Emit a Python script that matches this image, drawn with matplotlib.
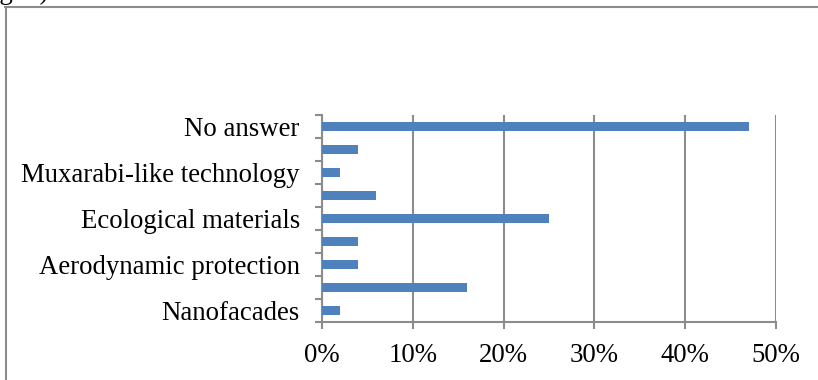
import matplotlib.pyplot as plt
from matplotlib.lines import Line2D
from matplotlib.ticker import FixedLocator, PercentFormatter

# survey answers, bottom to top; every other label is left blank
categories = ["Nanofacades", "", "Aerodynamic protection", "",
              "Ecological materials", "", "Muxarabi-like technology", "",
              "No answer"]
shares = [2, 16, 4, 4, 25, 6, 2, 4, 47]
x_ticks = [0, 10, 20, 30, 40, 50]

BAR = "#4f81bd"
GREY = "#8c8c8c"
FS = 19.3

plt.rcParams['font.family'] = ['Liberation Serif', 'DejaVu Serif']

fig = plt.figure(figsize=(8.18, 3.80), dpi=100)
ax = fig.add_axes([322 / 818, 1 - 322 / 380, 454 / 818, 207 / 380])

pos = list(range(len(categories)))
ax.barh(pos, shares, height=0.42, color=BAR, zorder=3)

ax.set_xlim(0, 50)
ax.set_ylim(-0.5, len(categories) - 0.5)
ax.xaxis.set_major_locator(FixedLocator(x_ticks))
ax.xaxis.set_major_formatter(PercentFormatter(decimals=0))
ax.grid(axis='x', color=GREY, linewidth=1.5, zorder=0)

# tick marks sit between categories, labels at bar centres
ax.yaxis.set_major_locator(FixedLocator([p - 0.5 for p in pos] + [pos[-1] + 0.5]))
ax.yaxis.set_major_formatter(plt.NullFormatter())
ax.yaxis.set_minor_locator(FixedLocator(pos))
ax.set_yticklabels(categories, minor=True)
ax.tick_params(axis='y', which='major', length=5, width=1.5, color=GREY)
ax.tick_params(axis='y', which='minor', length=0, pad=16, labelsize=FS)
ax.tick_params(axis='x', length=5, width=1.5, color=GREY, pad=10, labelsize=FS)

for side in ("top", "right"):
    ax.spines[side].set_visible(False)
for side in ("left", "bottom"):
    ax.spines[side].set_color(GREY)
    ax.spines[side].set_linewidth(1.5)

# outer frame of the figure box and the cut-off caption above it
fig.add_artist(Line2D([5 / 818, 1], [1 - 6.5 / 380] * 2, color=GREY, linewidth=1.5))
fig.add_artist(Line2D([5.5 / 818] * 2, [0, 1 - 6.5 / 380], color=GREY, linewidth=1.5))
fig.text(-23 / 818, 1 + 1 / 380, "Fig. 3).", fontsize=FS, va='baseline', ha='left')

fig.savefig("out.png", dpi=100)
